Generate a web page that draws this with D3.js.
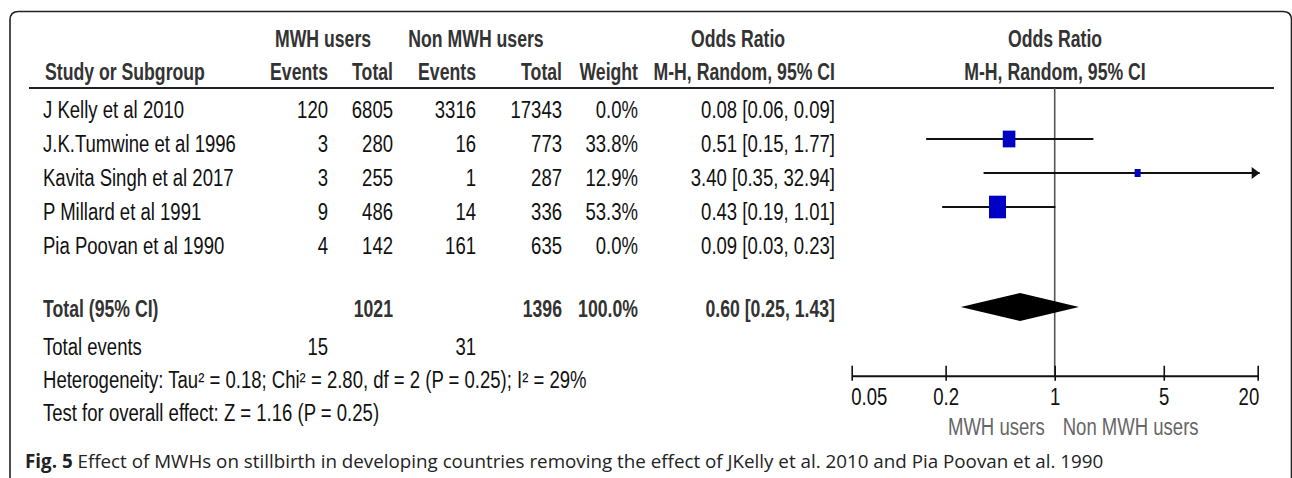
<!DOCTYPE html>
<html>
<head>
<meta charset="utf-8">
<title></title>
<style>
  body { margin: 0; background: #fff; }
  svg text { font-family: "Liberation Sans", Arial, sans-serif; }
</style>
</head>
<body>
<script src="https://d3js.org/d3.v7.min.js"></script>
<script type="text/javascript">

    var studies = ['J Kelly et al 2010', 'J.K.Tumwine et al 1996', 'Kavita Singh et al 2017', 'P Millard et al 1991', 'Pia Poovan et al 1990'];
    var mwhEvents = [120, 3, 3, 9, 4];
    var mwhTotal = [6805, 280, 255, 486, 142];
    var nonEvents = [3316, 16, 1, 14, 161];
    var nonTotal = [17343, 773, 287, 336, 635];
    var weights = [0.0, 33.8, 12.9, 53.3, 0.0];
    var oddsRatio = [0.08, 0.51, 3.40, 0.43, 0.09];
    var ciLow = [0.06, 0.15, 0.35, 0.19, 0.03];
    var ciHigh = [0.09, 1.77, 32.94, 1.01, 0.23];

    var pooled = [0.60, 0.25, 1.43];
    var totals = [1021, 1396];
    var totalEvents = [15, 31];
    var axisTicks = [0.05, 0.2, 1, 5, 20];

    var heterogeneity = 'Heterogeneity: Tau\u00B2 = 0.18; Chi\u00B2 = 2.80, df = 2 (P = 0.25); I\u00B2 = 29%';
    var overall = 'Test for overall effect: Z = 1.16 (P = 0.25)';

    var width = 1292, height = 478;
    // narrow look: squeeze Liberation Sans horizontally
    var fs = 23, sxNormal = 0.806, sxBold = 0.768;

    var svg = d3.select('body').append('svg')
        .attr('width', width)
        .attr('height', height);

    // frame (open at the bottom)
    svg.append('path')
        .attr('d', 'M10,478 L10,20 Q10,11.5 18.5,11.5 L1283,11.5 Q1291.5,11.5 1291.5,20 L1291.5,478')
        .attr('fill', 'none')
        .attr('stroke', '#222')
        .attr('stroke-width', 1.6);

    var x = d3.scaleLog().domain([0.05, 20]).range([851.7, 1257.7]);
    var rowY = d3.scalePoint().domain(studies).range([118, 254]);
    var col = { name: 43, e1: 328, t1: 393, e2: 476, t2: 562, w: 638, ci: 835 };
    var fmtOR = d3.format('.2f'), fmtW = d3.format('.1f');

    function txt(xx, yy, s, anchor, bold, color) {
        var sx = bold ? sxBold : sxNormal;
        return svg.append('text')
            .attr('transform', 'translate(' + xx + ',' + yy + ') scale(' + sx + ',1)')
            .attr('text-anchor', anchor || 'start')
            .attr('font-size', fs)
            .attr('font-weight', bold ? 'bold' : 'normal')
            .attr('fill', color || '#111')
            .text(s);
    }

    // header
    txt(323, 47, 'MWH users', 'middle', true, '#333');
    txt(476, 47, 'Non MWH users', 'middle', true, '#333');
    txt(738, 47, 'Odds Ratio', 'middle', true, '#333');
    txt(1055, 47, 'Odds Ratio', 'middle', true, '#333');
    txt(45, 80, 'Study or Subgroup', 'start', true, '#333');
    txt(col.e1, 80, 'Events', 'end', true, '#333');
    txt(col.t1, 80, 'Total', 'end', true, '#333');
    txt(col.e2, 80, 'Events', 'end', true, '#333');
    txt(col.t2, 80, 'Total', 'end', true, '#333');
    txt(col.w, 80, 'Weight', 'end', true, '#333');
    txt(col.ci, 80, 'M-H, Random, 95% CI', 'end', true, '#333');
    txt(1055, 80, 'M-H, Random, 95% CI', 'middle', true, '#333');

    svg.append('line')
        .attr('x1', 29).attr('x2', 1274)
        .attr('y1', 88).attr('y2', 88)
        .attr('stroke', '#222').attr('stroke-width', 2);

    // study rows
    studies.forEach(function(s, i) {
        var y = rowY(s);
        txt(col.name, y, s);
        txt(col.e1, y, mwhEvents[i], 'end');
        txt(col.t1, y, mwhTotal[i], 'end');
        txt(col.e2, y, nonEvents[i], 'end');
        txt(col.t2, y, nonTotal[i], 'end');
        txt(col.w, y, fmtW(weights[i]) + '%', 'end');
        txt(col.ci, y, fmtOR(oddsRatio[i]) + ' [' + fmtOR(ciLow[i]) + ', ' + fmtOR(ciHigh[i]) + ']', 'end');
    });

    // total rows
    var yTot = 317;
    txt(col.name, yTot, 'Total (95% CI)', 'start', true, '#333');
    txt(col.t1, yTot, totals[0], 'end', true, '#333');
    txt(col.t2, yTot, totals[1], 'end', true, '#333');
    txt(col.w, yTot, '100.0%', 'end', true, '#333');
    txt(col.ci, yTot, fmtOR(pooled[0]) + ' [' + fmtOR(pooled[1]) + ', ' + fmtOR(pooled[2]) + ']', 'end', true, '#333');
    txt(col.name, 355, 'Total events');
    txt(col.e1, 355, totalEvents[0], 'end');
    txt(col.e2, 355, totalEvents[1], 'end');
    txt(col.name, 388, heterogeneity);
    txt(col.name, 421, overall);

    // null line
    svg.append('line')
        .attr('x1', x(1)).attr('x2', x(1))
        .attr('y1', 88).attr('y2', 376)
        .attr('stroke', '#555').attr('stroke-width', 1.6);

    // study CIs and boxes
    var boxW = d3.scaleSqrt().domain([12.9, 53.3]).range([6, 17]);
    var xMin = x.domain()[0], xMax = x.domain()[1];
    studies.forEach(function(s, i) {
        if (weights[i] <= 0) return;
        var y = rowY(s) - 13;
        var lo = Math.max(ciLow[i], xMin), hi = Math.min(ciHigh[i], xMax);
        var x2 = ciHigh[i] > xMax ? x(xMax) + 2 : x(hi);
        svg.append('line')
            .attr('x1', x(lo)).attr('x2', x2)
            .attr('y1', y).attr('y2', y)
            .attr('stroke', '#111').attr('stroke-width', 2);
        if (ciHigh[i] > xMax) {
            svg.append('path')
                .attr('d', 'M' + (x2 - 8) + ',' + (y - 6) + 'L' + x2 + ',' + y + 'L' + (x2 - 8) + ',' + (y + 6) + 'Z')
                .attr('fill', '#111');
        }
        var w = boxW(weights[i]), h = w * 1.33;
        svg.append('rect')
            .attr('x', x(oddsRatio[i]) - w / 2)
            .attr('y', y - h / 2)
            .attr('width', w).attr('height', h)
            .attr('fill', '#0000c4');
    });

    // pooled diamond
    var yD = 307;
    svg.append('path')
        .attr('d', 'M' + x(pooled[1]) + ',' + yD +
                   'L' + x(pooled[0]) + ',' + (yD - 14) +
                   'L' + x(pooled[2]) + ',' + yD +
                   'L' + x(pooled[0]) + ',' + (yD + 14) + 'Z')
        .attr('fill', '#000');

    // axis
    var axis = d3.axisBottom(x)
        .tickValues(axisTicks)
        .tickFormat(function(d) { return String(d); })
        .tickSizeOuter(0);
    var gAxis = svg.append('g')
        .attr('transform', 'translate(0,375.7)')
        .call(axis);
    gAxis.select('.domain').attr('stroke', '#111').attr('stroke-width', 2);
    gAxis.selectAll('.tick line')
        .attr('y1', -10).attr('y2', 5)
        .attr('stroke', '#111').attr('stroke-width', 1.6);
    gAxis.selectAll('.tick text')
        .attr('y', 0).attr('dy', 0)
        .attr('transform', function(d, i) {
            var dx = i === 0 ? -1 : (i === axisTicks.length - 1 ? 1 : 0);
            return 'translate(' + dx + ',29) scale(' + sxNormal + ',1)';
        })
        .attr('font-size', fs)
        .attr('fill', '#111')
        .attr('font-family', '"Liberation Sans", Arial, sans-serif')
        .attr('text-anchor', function(d, i) { return i === 0 ? 'start' : (i === axisTicks.length - 1 ? 'end' : 'middle'); });

    txt(x(1) - 10, 435, 'MWH users', 'end', false, '#666');
    txt(x(1) + 8, 435, 'Non MWH users', 'start', false, '#666');

    // caption
    var cap = svg.append('text')
        .attr('x', 25).attr('y', 468)
        .attr('font-size', 18.8)
        .attr('fill', '#222')
        .style('font-family', '"Open Sans", "Noto Sans", sans-serif');
    cap.append('tspan').attr('font-weight', 'bold').text('Fig. 5');
    cap.append('tspan').text(' Effect of MWHs on stillbirth in developing countries removing the effect of JKelly et al. 2010 and Pia Poovan et al. 1990');

</script>
</body>
</html>
